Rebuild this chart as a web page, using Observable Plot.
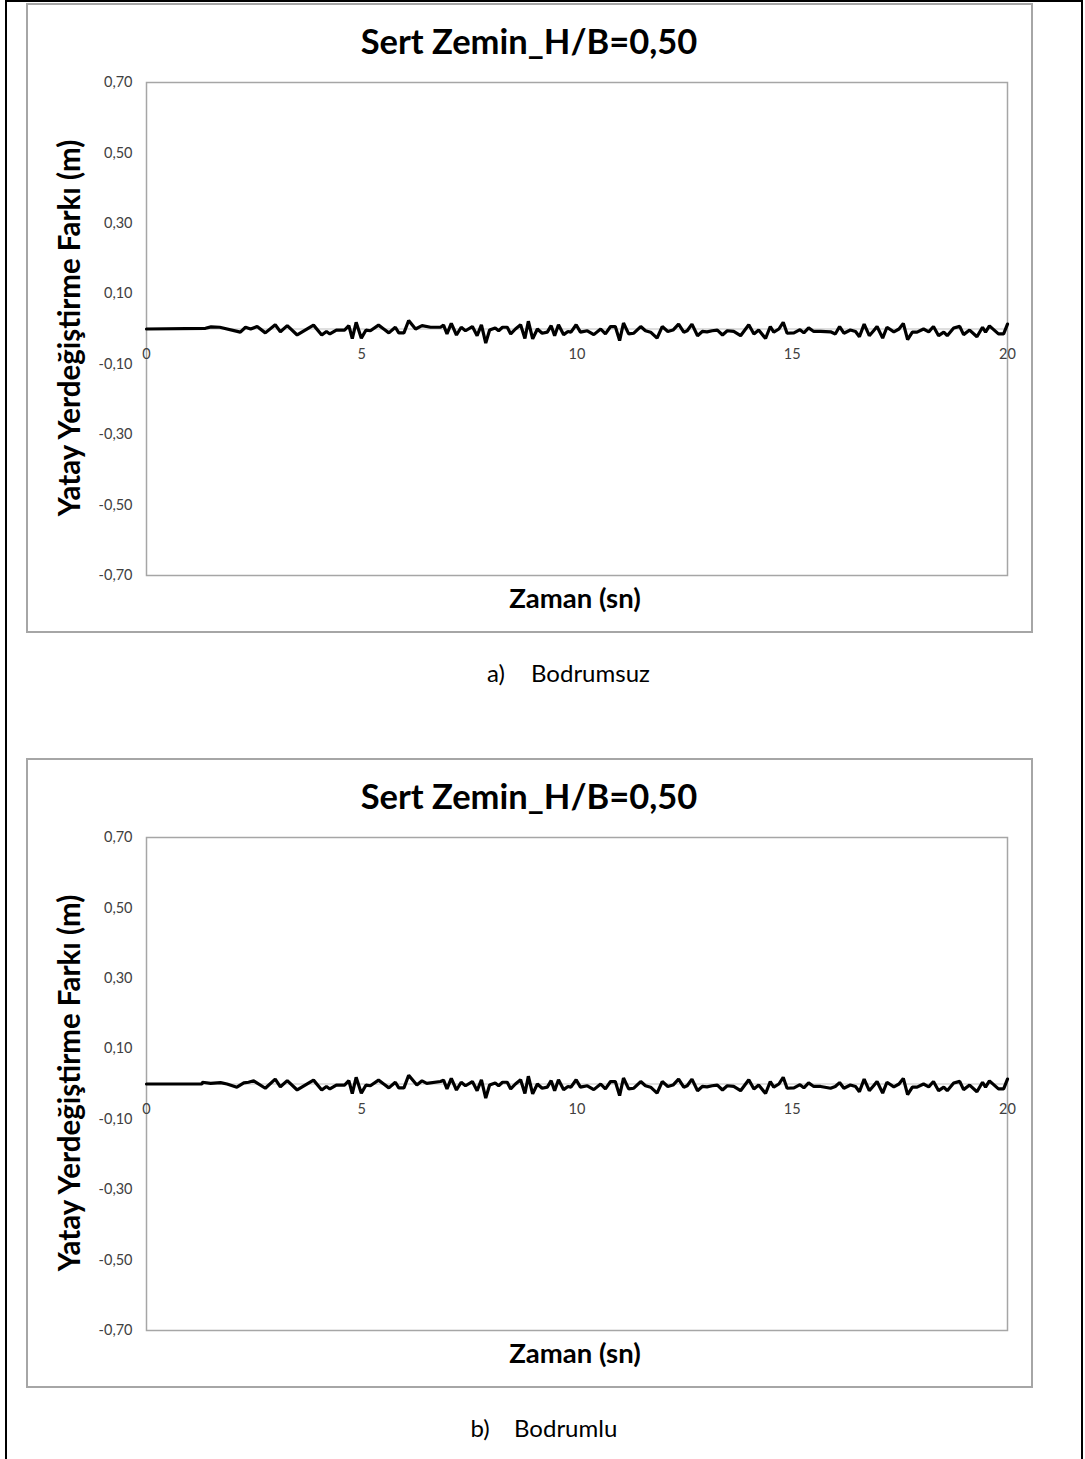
<!DOCTYPE html>
<html>
<head>
<meta charset="utf-8">
<script src="https://cdn.jsdelivr.net/npm/d3@7"></script>
<script src="https://cdn.jsdelivr.net/npm/@observablehq/plot@0.6"></script>
<style>
  html, body { margin: 0; padding: 0; background: #fff; }
  #page { position: relative; width: 1085px; height: 1459px; overflow: hidden; background: #fff; font-family: Lato, "Open Sans", sans-serif; }
  .outer { position: absolute; left: 5px; top: 0px; width: 1074px; height: 1480px; border: 2px solid #000; }
  .box { position: absolute; left: 26px; width: 1003px; height: 626px; border: 2px solid #a6a6a6; }
  .lbl { position: absolute; white-space: nowrap; transform: translate(-50%, -50%); color: #000; }
  .title { font-weight: bold; font-size: 34.5px; }
  .axlab { font-weight: bold; font-size: 27.5px; }
  .ylab { font-size: 29.5px; transform: translate(-50%, -50%) rotate(-90deg); }
  .cap { font-size: 24px; }
  .chart { position: absolute; left: 0; }
</style>
</head>
<body>
<div id="page"><div class="outer"></div></div>
<script>
// ---- data ----
const chartTitle = "Sert Zemin_H/B=0,50";
const yLabel = "Yatay Yerdeğiştirme Farkı (m)";
const xLabel = "Zaman (sn)";
const captionLetters = ["a)", "b)"];
const captionNames = ["Bodrumsuz", "Bodrumlu"];
const xTicks = [0, 5, 10, 15, 20];
const yTicks = [0.7, 0.5, 0.3, 0.1, -0.1, -0.3, -0.5, -0.7];

// a) Bodrumsuz
const timeA = [0,1.37,1.5,1.7,2.18,2.3,2.42,2.57,2.76,2.99,3.11,3.27,3.5,3.88,4.07,4.18,4.26,4.41,4.6,4.7,4.78,4.87,4.99,5.1,5.2,5.39,5.51,5.63,5.78,5.86,5.98,6.09,6.25,6.4,6.6,6.83,6.9,6.98,7.08,7.2,7.31,7.41,7.57,7.68,7.78,7.88,7.97,8.1,8.18,8.27,8.38,8.46,8.57,8.69,8.79,8.87,8.97,9.08,9.19,9.31,9.4,9.48,9.57,9.69,9.79,9.86,9.98,10.08,10.24,10.39,10.55,10.66,10.78,10.89,10.99,11.08,11.2,11.32,11.48,11.59,11.71,11.86,11.98,12.11,12.23,12.36,12.48,12.56,12.67,12.8,12.91,13.02,13.14,13.26,13.38,13.49,13.64,13.8,13.99,14.11,14.22,14.38,14.49,14.57,14.69,14.79,14.88,15.04,15.18,15.27,15.38,15.5,15.66,15.89,16.0,16.1,16.2,16.35,16.47,16.56,16.67,16.79,16.89,16.97,17.1,17.2,17.36,17.48,17.58,17.68,17.79,17.9,18.05,18.17,18.28,18.4,18.52,18.6,18.75,18.89,18.98,19.12,19.29,19.42,19.49,19.58,19.79,19.91,20];
const valueA = [0,0.002,0.006,0.005,-0.009,0.005,0,0.007,-0.011,0.012,-0.008,0.0095,-0.017,0.011,-0.017,-0.007,-0.014,-0.003,-0.003,0.0095,-0.027,0.019,-0.026,-0.003,-0.005,0.011,0,-0.011,0.005,-0.011,-0.011,0.024,0,0.0095,0.005,0.005,0.011,-0.014,0.016,-0.017,0.005,-0.005,0.007,-0.019,0.012,-0.04,-0.003,0.003,-0.005,0.005,0.005,-0.014,0,0.012,-0.027,0.022,-0.028,0,-0.012,-0.009,0.0095,-0.019,0.012,-0.016,-0.007,-0.009,0.012,-0.009,-0.005,-0.016,0,-0.014,0.007,0.007,-0.033,0.017,-0.014,-0.012,0.007,-0.005,-0.009,-0.026,0.007,-0.007,-0.003,0.014,-0.009,-0.005,0.014,-0.019,-0.007,-0.008,-0.005,-0.003,-0.017,-0.005,-0.007,-0.019,0.012,-0.014,-0.003,-0.027,0.007,-0.009,0,0.019,-0.012,-0.011,-0.002,-0.011,0.003,-0.007,-0.007,-0.008,-0.014,0.007,-0.012,-0.003,-0.007,-0.022,0.014,-0.019,-0.005,0.007,-0.026,0.005,-0.008,0,0.016,-0.03,-0.009,-0.009,0,-0.008,0.007,-0.019,-0.009,-0.019,0.003,0.0075,-0.016,-0.003,-0.022,0.005,-0.009,0.009,-0.014,-0.014,0.014];

// b) Bodrumlu
const timeB = [0,1.29,1.3,1.49,1.72,1.87,2.1,2.26,2.37,2.49,2.76,2.99,3.11,3.27,3.5,3.88,4.07,4.18,4.26,4.41,4.6,4.7,4.78,4.87,4.99,5.1,5.2,5.39,5.51,5.63,5.78,5.86,5.98,6.09,6.28,6.4,6.51,6.83,6.9,6.98,7.08,7.2,7.31,7.41,7.57,7.68,7.78,7.88,7.97,8.1,8.18,8.27,8.38,8.46,8.57,8.69,8.79,8.87,8.97,9.08,9.19,9.31,9.4,9.48,9.57,9.69,9.79,9.86,9.98,10.08,10.24,10.39,10.55,10.66,10.78,10.89,10.99,11.08,11.2,11.32,11.48,11.59,11.71,11.86,11.98,12.11,12.23,12.36,12.48,12.56,12.67,12.8,12.91,13.02,13.14,13.26,13.38,13.49,13.64,13.8,13.99,14.11,14.22,14.38,14.49,14.57,14.69,14.79,14.88,15.04,15.18,15.27,15.38,15.5,15.66,15.89,16.0,16.1,16.2,16.35,16.47,16.56,16.67,16.79,16.89,16.97,17.1,17.2,17.36,17.48,17.58,17.68,17.79,17.9,18.05,18.17,18.28,18.4,18.52,18.6,18.75,18.89,18.98,19.12,19.29,19.42,19.49,19.58,19.79,19.91,20];
const valueB = [0,0,0.005,0.002,0.004,0,-0.009,0.003,0.005,0.009,-0.012,0.014,-0.008,0.0095,-0.017,0.011,-0.017,-0.007,-0.014,-0.003,-0.003,0.0095,-0.027,0.019,-0.026,-0.003,-0.005,0.011,0,-0.011,0.005,-0.011,-0.011,0.025,-0.003,0.009,0.002,0.007,0.011,-0.014,0.016,-0.017,0.005,-0.005,0.007,-0.019,0.012,-0.04,-0.003,0.003,-0.005,0.005,0.005,-0.014,0,0.012,-0.027,0.022,-0.028,0,-0.012,-0.009,0.0095,-0.019,0.012,-0.016,-0.007,-0.009,0.012,-0.009,-0.005,-0.016,0,-0.014,0.007,0.007,-0.033,0.017,-0.014,-0.012,0.007,-0.005,-0.009,-0.026,0.007,-0.007,-0.003,0.014,-0.009,-0.005,0.014,-0.019,-0.007,-0.008,-0.005,-0.003,-0.017,-0.005,-0.007,-0.019,0.012,-0.014,-0.003,-0.027,0.007,-0.009,0,0.019,-0.012,-0.011,-0.002,-0.011,0.003,-0.007,-0.007,-0.012,-0.007,0.004,-0.012,-0.003,-0.007,-0.022,0.014,-0.019,-0.005,0.007,-0.026,0.005,-0.008,0,0.016,-0.03,-0.009,-0.009,0,-0.008,0.007,-0.019,-0.009,-0.019,0.003,0.0075,-0.016,-0.003,-0.022,0.005,-0.009,0.009,-0.014,-0.014,0.014];

// ---- drawing ----
const page = document.getElementById("page");
const fmt = d => d.toFixed(2).replace(".", ",");

function addLabel(cls, text, x, y) {
  const el = document.createElement("div");
  el.className = "lbl " + cls;
  el.textContent = text;
  el.style.left = x + "px";
  el.style.top = y + "px";
  page.appendChild(el);
  return el;
}

function panel(offset, times, values, letter, name) {
  const box = document.createElement("div");
  box.className = "box";
  box.style.top = (3 + offset) + "px";
  page.appendChild(box);

  const data = times.map((t, i) => ({t, v: values[i]}));
  const svg = Plot.plot({
    width: 1085,
    height: 540,
    marginLeft: 146,
    marginRight: 78,
    marginTop: 22,
    marginBottom: 25,
    x: {domain: [0, 20], axis: null},
    y: {domain: [-0.7, 0.7]},
    style: {fontFamily: "Lato, 'Open Sans', sans-serif", fontSize: "14.5px", color: "#404040", background: "transparent", overflow: "visible"},
    marks: [
      Plot.frame({stroke: "#a6a6a6", strokeWidth: 1.5}),
      Plot.ruleY([0], {stroke: "#bfbfbf", strokeWidth: 1}),
      Plot.axisY(yTicks, {tickSize: 0, tickPadding: 14, tickFormat: fmt, label: null, fill: "#404040"}),
      Plot.text(xTicks, {x: d => d, y: 0, dy: 25, text: d => String(d), fill: "#404040", fontSize: 14.5}),
      Plot.line(data, {x: "t", y: "v", stroke: "#000", strokeWidth: 3.2, strokeLinejoin: "miter"})
    ]
  });
  const wrap = document.createElement("div");
  wrap.className = "chart";
  wrap.style.top = (60 + offset) + "px";
  wrap.appendChild(svg);
  page.appendChild(wrap);

  addLabel("title", chartTitle, 529, 40 + offset);
  addLabel("axlab ylab", yLabel, 68, 328 + offset);
  addLabel("axlab", xLabel, 575, 597 + offset);
  const c1 = addLabel("cap", letter, 496, 672 + offset);
  const c2 = addLabel("cap", name, 0, 672 + offset);
  c2.style.transform = "translate(0, -50%)";
  c2.style.left = (letter === "a)" ? 531 : 514) + "px";
  if (letter === "b)") c1.style.left = "480px";
}

panel(0, timeA, valueA, captionLetters[0], captionNames[0]);
panel(755, timeB, valueB, captionLetters[1], captionNames[1]);
</script>
</body>
</html>
